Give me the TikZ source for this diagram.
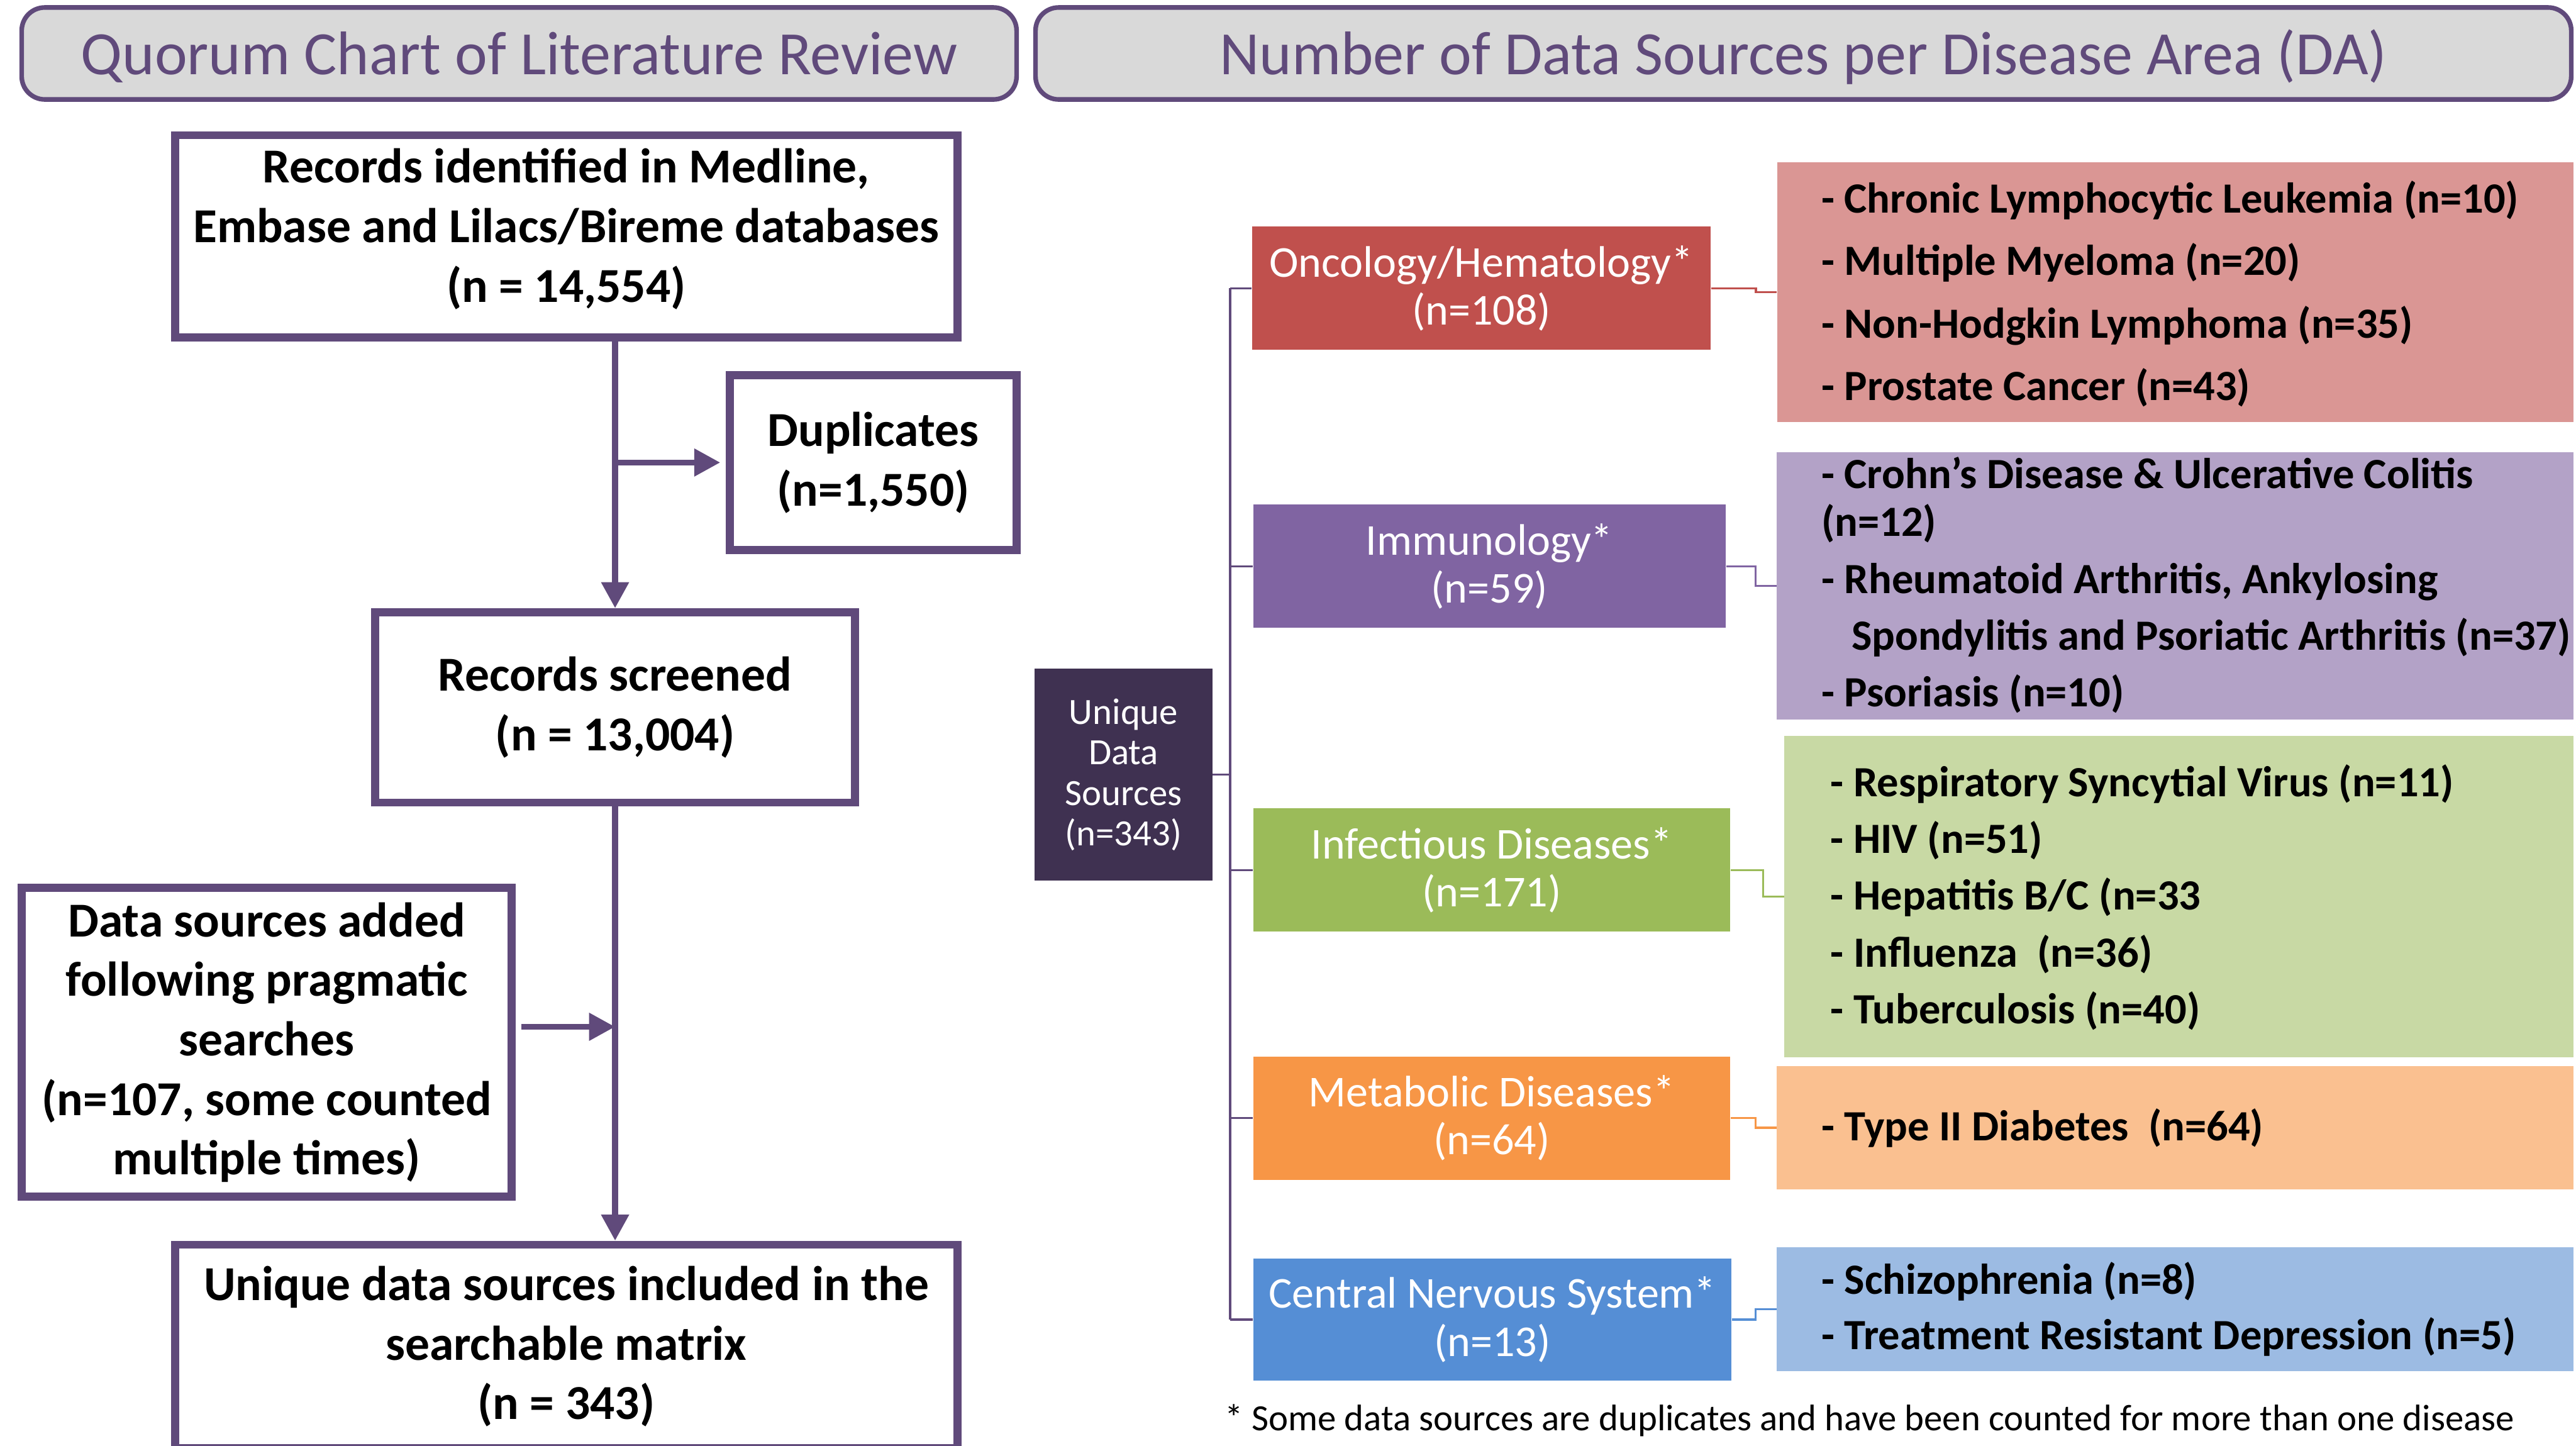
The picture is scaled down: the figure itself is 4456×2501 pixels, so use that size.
\documentclass[tikz,border=0pt]{standalone}
\usepackage{fontspec}
\setmainfont{Carlito}
\usetikzlibrary{arrows.meta,calc}
\definecolor{pur}{HTML}{604A7B}
\definecolor{tgray}{HTML}{D9D9D9}
\definecolor{udark}{HTML}{3F3151}
\definecolor{oncc}{HTML}{C0504D}
\definecolor{oncl}{HTML}{DA9694}
\definecolor{immc}{HTML}{8064A2}
\definecolor{imml}{HTML}{B3A2C7}
\definecolor{infc}{HTML}{9BBB59}
\definecolor{infl}{HTML}{C8D9A4}
\definecolor{metc}{HTML}{F79646}
\definecolor{metl}{HTML}{FAC090}
\definecolor{cnsc}{HTML}{558ED5}
\definecolor{cnsl}{HTML}{9CBBE3}
\tikzset{
  titlebox/.style={draw=pur, line width=0.08cm, fill=tgray, rounded corners=0.4cm, text=pur,
    font=\fontsize{30.3}{36}\selectfont, inner sep=0, minimum height=1.59cm},
  flowbox/.style={draw=pur, line width=0.14cm, fill=white, align=center, inner sep=0,
    font=\bfseries\fontsize{24}{29.3}\selectfont},
  dabox/.style={text=white, align=center, inner sep=0, minimum height=2.13cm,
    font=\fontsize{21.7}{23.6}\selectfont},
  detbox/.style={inner sep=0, minimum width=13.77cm},
  dettext/.style={anchor=west, align=left, inner sep=0, font=\bfseries\fontsize{21.2}{23.6}\selectfont},
  arr/.style={draw=pur, line width=0.1cm, -{Triangle[length=0.45cm,width=0.46cm]}},
  tree/.style={draw=pur, line width=0.035cm},
  link/.style={line width=0.035cm},
}
\begin{document}
\begin{tikzpicture}[x=0.01cm,y=-0.01cm]
\useasboundingbox (0,0) rectangle (4456,2501);
% titles
\node[titlebox, minimum width=17.20cm] (t1) at (898,92.5) {\raisebox{-0.06cm}[\height][\depth]{Quorum Chart of Literature Review}};
\node[titlebox, minimum width=26.55cm] (t2) at (3119.5,92.5) {\raisebox{-0.06cm}[\height][\depth]{Number of Data Sources per Disease Area (DA)}};
% flow chart
\node[flowbox, minimum width=13.53cm, minimum height=3.50cm] (b1) at (979.5,409)
  {\raisebox{0.10cm}[\height][\depth]{\begin{tabular}{@{}c@{}}Records identified in Medline,\\Embase and Lilacs/Bireme databases\\(n = 14,554)\end{tabular}}};
\node[flowbox, minimum width=4.95cm, minimum height=3.02cm] (dup) at (1510.5,800)
  {Duplicates\\(n=1,550)};
\node[flowbox, minimum width=8.30cm, minimum height=3.29cm] (scr) at (1064,1223.5)
  {Records screened\\(n = 13,004)};
\node[flowbox, minimum width=8.47cm, minimum height=5.34cm] (add) at (461.5,1803)
  {Data sources added\\following pragmatic\\searches\\(n=107, some counted\\multiple times)};
\node[flowbox, minimum width=13.53cm, minimum height=3.52cm] (uni) at (979.5,2329)
  {Unique data sources included in the\\searchable matrix\\(n = 343)};
\draw[arr] (b1.south -| scr.north) -- (scr.north);
\draw[arr] (dup.west -| scr.north) -- ([xshift=-0.1cm]dup.west);
\draw[arr] (scr.south) -- (uni.north -| scr.south);
\draw[arr] ([yshift=0.27cm,xshift=0.1cm]add.east) -- ([yshift=0.27cm]add.east -| scr.south);
% right part
\node[fill=udark, text=white, align=center, inner sep=0, minimum width=3.07cm, minimum height=3.66cm,
  font=\fontsize{18.2}{19.9}\selectfont] (uds) at (1943.5,1340) {Unique\\Data\\Sources\\(n=343)};
\node[dabox, fill=oncc, minimum width=7.93cm] (onc) at (2562.5,498.5) {Oncology/Hematology*\\(n=108)};
\node[dabox, fill=immc, minimum width=8.17cm] (imm) at (2576.5,979.5) {Immunology*\\(n=59)};
\node[dabox, fill=infc, minimum width=8.25cm] (inf) at (2580.5,1505) {Infectious Diseases*\\(n=171)};
\node[dabox, fill=metc, minimum width=8.25cm] (met) at (2580.5,1934) {Metabolic Diseases*\\(n=64)};
\node[dabox, fill=cnsc, minimum width=8.27cm, minimum height=2.11cm] (cns) at (2581.5,2282.5) {Central Nervous System*\\(n=13)};
\coordinate (vt) at (2128,498.5);
\coordinate (vb) at (2128,2282.5);
\draw[tree] (vt) -- (vb);
\draw[tree] (uds.east) -- (uds.east -| vt);
\foreach \n in {onc,imm,inf,met,cns}{\draw[tree] (\n.west -| vt) -- (\n.west);}
% detail boxes
\node[detbox, fill=oncl, minimum height=4.49cm] (oncd) at (3763,505.5) {};
\node[detbox, fill=imml, minimum height=4.62cm] (immd) at (3762.5,1013) {};
\node[detbox, fill=infl, minimum height=5.56cm, minimum width=13.64cm] (infd) at (3769,1551) {};
\node[detbox, fill=metl, minimum height=2.13cm] (metd) at (3762.5,1950.5) {};
\node[detbox, fill=cnsl, minimum height=2.15cm] (cnsd) at (3762.5,2264.5) {};
\draw[link, oncc] (onc.east) -| ([xshift=-0.36cm]oncd.west) -- (oncd.west);
\draw[link, immc] (imm.east) -| ([xshift=-0.36cm]immd.west) -- (immd.west);
\draw[link, infc] (inf.east) -| ([xshift=-0.36cm]infd.west) -- (infd.west);
\draw[link, metc] (met.east) -| ([xshift=-0.36cm]metd.west) -- (metd.west);
\draw[link, cnsc] (cns.east) -| ([xshift=-0.36cm]cnsd.west) -- (cnsd.west);
\node[dettext, font=\bfseries\fontsize{21.2}{30.8}\selectfont] (oncx) at (3150,508.5)
  {- Chronic Lymphocytic Leukemia (n=10)\\- Multiple Myeloma (n=20)\\- Non-Hodgkin Lymphoma (n=35)\\- Prostate Cancer (n=43)};
\node[dettext] (immx) at (3150,1012)
  {- Crohn’s Disease \& Ulcerative Colitis\\(n=12)\\[4.3pt]- Rheumatoid Arthritis, Ankylosing\\[4.3pt]\hspace*{0.52cm}Spondylitis and Psoriatic Arthritis (n=37)\\[4.3pt]- Psoriasis (n=10)};
\node[dettext, font=\bfseries\fontsize{21.2}{27.9}\selectfont] (infx) at (3166,1552)
  {- Respiratory Syncytial Virus (n=11)\\- HIV (n=51)\\- Hepatitis B/C (n=33\\- Influenza~~(n=36)\\- Tuberculosis (n=40)};
\node[dettext] (metx) at (3150,1951) {- Type II Diabetes~~(n=64)};
\node[dettext, font=\bfseries\fontsize{21.2}{27.3}\selectfont] (cnsx) at (3150,2264)
  {- Schizophrenia (n=8)\\- Treatment Resistant Depression (n=5)};
\node[anchor=west, inner sep=0, font=\fontsize{18.2}{20}\selectfont] (foot) at (2118,2457)
  {* Some data sources are duplicates and have been counted for more than one disease};
\end{tikzpicture}
\end{document}
